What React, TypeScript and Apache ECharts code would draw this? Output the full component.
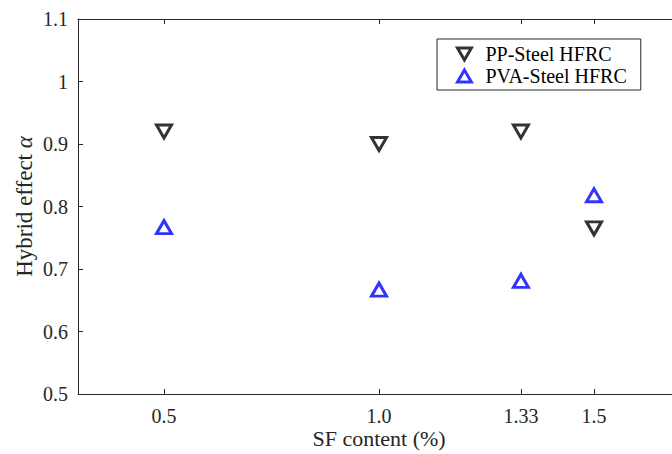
import React, { useEffect, useRef } from "react";
import * as echarts from "echarts";

const xTicks = [0.5, 1.0, 1.33, 1.5];
const xTickLabels = ["0.5", "1.0", "1.33", "1.5"];
const sfContent = [0.5, 1.0, 1.33, 1.5];
const ppSteel = [0.92, 0.9, 0.92, 0.765];
const pvaSteel = [0.767, 0.667, 0.681, 0.818];
const seriesNames = ["PP-Steel HFRC", "PVA-Steel HFRC"];

const AX = "#262626";
const FONT = "Liberation Serif";
const DOWN_TRI = "path://M0,0 L10,0 L5,8.66 Z";
const UP_TRI = "path://M5,0 L10,8.66 L0,8.66 Z";

export default function App() {
  const ref = useRef<HTMLDivElement>(null);
  useEffect(() => {
    if (!ref.current) return;
    const chart = echarts.init(ref.current, undefined, { renderer: "svg" });
    const xAxisBase = {
      type: "value",
      min: 0.3,
      max: 1.7,
      axisLine: { show: true, lineStyle: { color: AX, width: 1 } },
      axisTick: {
        show: true,
        inside: true,
        length: 5,
        customValues: xTicks,
        lineStyle: { color: AX },
      },
      splitLine: { show: false },
    };
    chart.setOption({
      animation: false,
      backgroundColor: "#ffffff",
      grid: {
        left: 78,
        top: 19,
        width: 602,
        height: 375,
        containLabel: false,
        outerBoundsMode: "none",
      },
      legend: {
        orient: "vertical",
        left: 437,
        top: 39,
        padding: [5, 14, 4, 19],
        itemGap: 2,
        itemWidth: 14,
        itemHeight: 12,
        backgroundColor: "#ffffff",
        borderColor: AX,
        borderWidth: 1,
        borderRadius: 0,
        textStyle: { fontFamily: FONT, fontSize: 20, color: "#000", padding: [0, 0, 0, 9] },
        data: [
          {
            name: seriesNames[0],
            icon: DOWN_TRI,
            itemStyle: { color: "#ffffff", borderColor: "#000000", borderWidth: 3 },
          },
          {
            name: seriesNames[1],
            icon: UP_TRI,
            itemStyle: { color: "#ffffff", borderColor: "#0000ff", borderWidth: 3 },
          },
        ],
      },
      xAxis: [
        {
          ...xAxisBase,
          position: "bottom",
          name: "SF content (%)",
          nameLocation: "middle",
          nameGap: 33,
          nameMoveOverlap: false,
          nameTextStyle: { fontFamily: FONT, fontSize: 22, lineHeight: 22, color: AX },
          axisLabel: {
            show: true,
            customValues: xTicks,
            margin: 12,
            fontFamily: FONT,
            fontSize: 20,
            lineHeight: 20,
            color: AX,
            formatter: (v: number) => {
              const i = xTicks.findIndex((t) => Math.abs(t - v) < 1e-6);
              return i >= 0 ? xTickLabels[i] : "";
            },
          },
        },
        {
          ...xAxisBase,
          position: "top",
          axisLabel: { show: false },
        },
      ],
      yAxis: {
        type: "value",
        min: 0.5,
        max: 1.1,
        interval: 0.1,
        name: "{a|Hybrid effect }{b|α}",
        nameLocation: "middle",
        nameGap: 42,
        nameMoveOverlap: false,
        nameRotate: 90,
        nameTextStyle: {
          fontFamily: FONT,
          fontSize: 23,
          lineHeight: 23,
          color: AX,
          rich: {
            a: { fontFamily: FONT, fontSize: 23, lineHeight: 23, color: AX },
            b: { fontFamily: FONT, fontSize: 23, lineHeight: 23, color: AX, fontStyle: "italic" },
          },
        },
        axisLine: { show: true, lineStyle: { color: AX, width: 1 } },
        axisTick: { show: true, inside: true, length: 5, lineStyle: { color: AX } },
        splitLine: { show: false },
        axisLabel: {
          margin: 10,
          fontFamily: FONT,
          fontSize: 20,
          color: AX,
          formatter: (v: number) => String(Math.round(v * 10) / 10),
        },
      },
      series: [
        {
          name: seriesNames[0],
          type: "scatter",
          data: sfContent.map((x, i) => [x, ppSteel[i]]),
          symbol: "triangle",
          symbolRotate: 180,
          symbolSize: [15, 13],
          itemStyle: { color: "#ffffff", borderColor: "#000000", borderWidth: 3 },
        },
        {
          name: seriesNames[1],
          type: "scatter",
          data: sfContent.map((x, i) => [x, pvaSteel[i]]),
          symbol: "triangle",
          symbolSize: [15, 13],
          itemStyle: { color: "#ffffff", borderColor: "#0000ff", borderWidth: 3 },
        },
      ],
    });
    return () => chart.dispose();
  }, []);
  return (
    <div
      ref={ref}
      style={{ position: "absolute", left: 0, top: 0, width: 672, height: 454 }}
    />
  );
}
